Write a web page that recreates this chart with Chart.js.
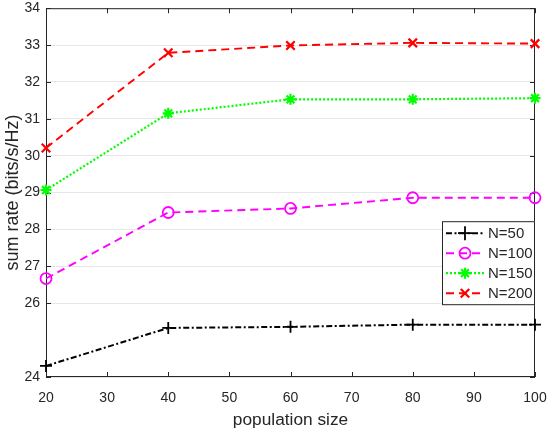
<!DOCTYPE html>
<html><head><meta charset="utf-8">
<script src="https://cdn.jsdelivr.net/npm/chart.js@4.4.0/dist/chart.umd.min.js"></script>
<style>html,body{margin:0;padding:0;background:#fff}#wrap{width:548px;height:428px;position:relative}</style>
</head><body><div id="wrap"><canvas id="c"></canvas></div>
<script>
const populationSize = [20, 40, 60, 80, 100];
const n50  = [24.30, 25.33, 25.36, 25.42, 25.42];
const n100 = [26.67, 28.46, 28.57, 28.86, 28.86];
const n150 = [29.07, 31.15, 31.53, 31.53, 31.56];
const n200 = [30.21, 32.79, 32.99, 33.06, 33.04];
const seriesLabels = ['N=50', 'N=100', 'N=150', 'N=200'];
const xTicks = [20, 30, 40, 50, 60, 70, 80, 90, 100];
const yTicks = [24, 26, 27, 28, 29, 30, 31, 32, 33, 34];
const xTitle = 'population size';
const yTitle = 'sum rate (bits/s/Hz)';

const TXT = '#262626';
const FONT = '"Liberation Sans", Arial, Helvetica, sans-serif';

function pts(ys){ return populationSize.map((x,i)=>({x:x, y:ys[i]})); }

const styles = [
  {color:'#000000', dash:[6,2.5,2,2.5], point:'cross', r:6, pw:1.8, lw:2},
  {color:'#ff00ff', dash:[8,5], point:'circle', r:5.5, pw:1.8, lw:1.9},
  {color:'#00ff00', dash:[2,2], point:'star', r:5.5, pw:2.2, lw:2.2},
  {color:'#ff0000', dash:[8,5], point:'crossRot', r:6, pw:2.2, lw:1.9}
];
const allSeries = [n50, n100, n150, n200];

const datasets = allSeries.map((s,i)=>({
  label: seriesLabels[i],
  data: pts(s),
  borderColor: styles[i].color,
  backgroundColor: 'rgba(0,0,0,0)',
  borderWidth: styles[i].lw,
  borderDash: styles[i].dash,
  pointStyle: styles[i].point,
  pointRadius: styles[i].r,
  pointBorderWidth: styles[i].pw,
  pointBorderColor: styles[i].color,
  pointBackgroundColor: 'rgba(0,0,0,0)',
  tension: 0,
  clip: false
}));

const frame = {
  id: 'frame',
  beforeDatasetsDraw(chart){
    const ctx = chart.ctx, a = chart.chartArea;
    const xs = chart.scales.x, ys = chart.scales.y;
    ctx.save();
    ctx.strokeStyle = TXT;
    ctx.lineWidth = 1;
    ctx.setLineDash([]);
    ctx.strokeRect(a.left+0.5, a.top+0.5, a.right-a.left-1, a.bottom-a.top-1);
    const L = 5;
    ctx.beginPath();
    xTicks.forEach(v=>{
      const px = Math.round(xs.getPixelForValue(v))+0.5;
      ctx.moveTo(px, a.bottom); ctx.lineTo(px, a.bottom-L);
      ctx.moveTo(px, a.top); ctx.lineTo(px, a.top+L);
    });
    yTicks.forEach(v=>{
      const py = Math.round(ys.getPixelForValue(v))+0.5;
      ctx.moveTo(a.left, py); ctx.lineTo(a.left+L, py);
      ctx.moveTo(a.right, py); ctx.lineTo(a.right-L, py);
    });
    ctx.stroke();
    ctx.restore();
  }
};

const boxLegend = {
  id: 'boxLegend',
  afterDraw(chart){
    const ctx = chart.ctx, a = chart.chartArea;
    const w = 93, h = 84;
    const x0 = a.right - w, y0 = a.top + 213;
    ctx.save();
    ctx.fillStyle = '#ffffff';
    ctx.fillRect(x0, y0, w, h);
    ctx.strokeStyle = TXT;
    ctx.lineWidth = 1;
    ctx.setLineDash([]);
    ctx.strokeRect(x0+0.5, y0+0.5, w-1, h-1);
    chart.data.datasets.forEach((ds,i)=>{
      const y = y0 + 12 + i*20;
      const st = styles[i];
      ctx.strokeStyle = st.color;
      ctx.lineWidth = st.lw;
      ctx.setLineDash(st.dash);
      ctx.beginPath();
      ctx.moveTo(x0+4, y); ctx.lineTo(x0+42, y);
      ctx.stroke();
      ctx.setLineDash([]);
      ctx.lineWidth = st.pw;
      ctx.strokeStyle = st.color;
      ctx.fillStyle = 'rgba(0,0,0,0)';
      Chart.helpers.drawPoint(ctx, {pointStyle: st.point, radius: st.r + (i===0?1:0), rotation: 0, borderWidth: st.pw}, x0+23, y);
      ctx.fillStyle = TXT;
      ctx.font = '15px ' + FONT;
      ctx.textBaseline = 'middle';
      ctx.textAlign = 'left';
      ctx.fillText(ds.label, x0+46, y+1);
    });
    ctx.restore();
  }
};

function noPad(s){ s.paddingLeft = 0; s.paddingRight = 0; s.paddingTop = 0; s.paddingBottom = 0; }

new Chart(document.getElementById('c'), {
  type: 'line',
  data: { datasets },
  plugins: [frame, boxLegend],
  options: {
    responsive: true,
    maintainAspectRatio: false,
    animation: false,
    devicePixelRatio: 1,
    layout: { padding: {left: 0, right: 13, top: 5, bottom: 0} },
    plugins: { legend: {display: false}, tooltip: {enabled: false} },
    scales: {
      x: {
        type: 'linear', min: 20, max: 100,
        afterBuildTicks(s){ s.ticks = xTicks.map(v=>({value:v})); },
        afterFit(s){ s.height = 51; noPad(s); },
        grid: { display: false, drawTicks: false },
        border: { display: false },
        ticks: { color: TXT, font: {family: FONT, size: 14}, padding: 13, maxRotation: 0, autoSkip: false },
        title: { display: true, text: xTitle, color: TXT, font: {family: FONT, size: 17.3}, padding: {top: 0, bottom: -3} }
      },
      y: {
        type: 'linear', min: 24, max: 34,
        afterBuildTicks(s){ s.ticks = yTicks.map(v=>({value:v})); },
        afterFit(s){ s.width = 46; noPad(s); },
        grid: { color: '#e6e6e6', lineWidth: 1, drawTicks: false },
        border: { display: false },
        ticks: { color: TXT, font: {family: FONT, size: 14}, padding: 6, autoSkip: false },
        title: { display: true, text: yTitle, color: TXT, font: {family: FONT, size: 18}, padding: {top: 2, bottom: 0} }
      }
    }
  }
});
</script>
</body></html>
